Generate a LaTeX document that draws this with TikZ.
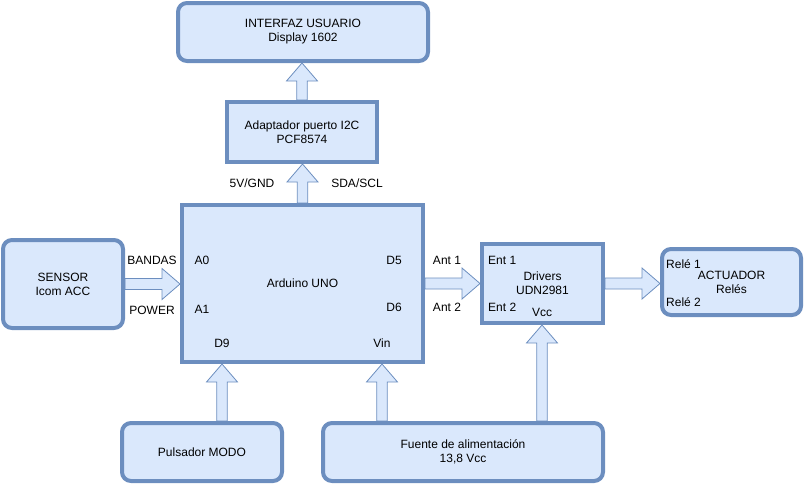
\documentclass[tikz,border=0pt]{standalone}
\usepackage{fontspec}
\setmainfont{Liberation Sans}
\usetikzlibrary{calc}
\definecolor{azulfondo}{RGB}{218,232,252}
\definecolor{azulborde}{RGB}{108,142,191}
\pgfdeclarelayer{fondo}
\pgfsetlayers{fondo,main}

\tikzset{
  bloque/.style={draw=azulborde, fill=azulfondo, line width=4pt, align=center, inner sep=0pt,
    execute at begin node={\vspace*{2pt}}},
  dos/.style={execute at begin node={\vspace*{5pt}}},
  redondo/.style={bloque, rounded corners=9pt},
  flecha/.style={draw=azulborde, fill=azulfondo, line width=0.8pt},
  etiqueta/.style={inner sep=0pt, text height=8.6pt, text depth=0pt}
}

% flecha gruesa hacia arriba, de #1 a #2
\newcommand{\flechaArriba}[2]{%
  \draw[flecha] let \p1=(#1), \p2=(#2) in
    (\x1-5.25pt,\y1) -- (\x1-5.25pt,\y2-18pt) -- (\x1-15.5pt,\y2-18pt) -- (\x1,\y2)
    -- (\x1+15.5pt,\y2-18pt) -- (\x1+5.25pt,\y2-18pt) -- (\x1+5.25pt,\y1) -- cycle;}
% flecha gruesa hacia la derecha, de #1 a #2
\newcommand{\flechaDerecha}[2]{%
  \draw[flecha] let \p1=(#1), \p2=(#2) in
    (\x1,\y1-5.5pt) -- (\x2-18pt,\y1-5.5pt) -- (\x2-18pt,\y1-15.5pt) -- (\x2,\y1)
    -- (\x2-18pt,\y1+15.5pt) -- (\x2-18pt,\y1+5.5pt) -- (\x1,\y1+5.5pt) -- cycle;}

\begin{document}
\begin{tikzpicture}[x=1pt, y=-1pt, font=\fontsize{12}{14}\selectfont]
  \useasboundingbox (0,0) rectangle (805,485);

  % Bloques
  \node[redondo, dos, minimum width=250pt, minimum height=58pt] (interfaz) at (303,32) {INTERFAZ USUARIO\\Display 1602};
  \node[bloque, dos, minimum width=150pt, minimum height=60pt] (adaptador) at (302,132) {Adaptador puerto I2C\\PCF8574};
  \node[bloque, minimum width=241pt, minimum height=157pt] (arduino) at (302.5,283.5) {Arduino UNO};
  \node[redondo, dos, minimum width=120pt, minimum height=88pt] (sensor) at (63,284) {SENSOR\\Icom ACC};
  \node[bloque, dos, minimum width=121pt, minimum height=79pt] (drivers) at (542.5,283.5) {Drivers\\UDN2981};
  \node[redondo, dos, minimum width=139pt, minimum height=66pt] (actuador) at (731.5,282) {ACTUADOR\\Relés};
  \node[redondo, minimum width=160pt, minimum height=58pt] (pulsador) at (202,452) {Pulsador MODO};
  \node[redondo, dos, minimum width=280pt, minimum height=58pt] (fuente) at (463,452) {Fuente de alimentación\\13,8 Vcc};

  % Etiquetas
  \node[etiqueta] (vgnd) at (252,183) {5V/GND};
  \node[etiqueta] (sda) at (357,183) {SDA/SCL};
  \node[etiqueta] (bandas) at (152,260) {BANDAS};
  \node[etiqueta] (power) at (152,310) {POWER};
  \node[etiqueta] (a0) at (202,260) {A0};
  \node[etiqueta] (a1) at (202,309) {A1};
  \node[etiqueta] (d5) at (394,260) {D5};
  \node[etiqueta] (d6) at (394,307) {D6};
  \node[etiqueta] (d9) at (222,343) {D9};
  \node[etiqueta] (vin) at (382,343) {Vin};
  \node[etiqueta] (ant1) at (447,260) {Ant 1};
  \node[etiqueta] (ant2) at (447,307) {Ant 2};
  \node[etiqueta, anchor=west] (ent1) at (488,260) {Ent 1};
  \node[etiqueta, anchor=west] (ent2) at (488,307) {Ent 2};
  \node[etiqueta] (vcc) at (542,312) {Vcc};
  \node[etiqueta, anchor=west] (rele1) at (666,264) {Relé 1};
  \node[etiqueta, anchor=west] (rele2) at (666,302) {Relé 2};

  % Flechas
  \begin{pgfonlayer}{fondo}
    \flechaArriba{adaptador.north}{interfaz.south}
    \flechaArriba{arduino.north}{adaptador.south}
    \flechaDerecha{sensor.east}{arduino.west}
    \flechaDerecha{arduino.east}{drivers.west}
    \flechaDerecha{drivers.east}{actuador.west}
    \flechaArriba{pulsador.north -| d9}{arduino.south}
    \flechaArriba{fuente.north -| vin}{arduino.south}
    \flechaArriba{fuente.north -| vcc}{drivers.south}
  \end{pgfonlayer}
\end{tikzpicture}
\end{document}
